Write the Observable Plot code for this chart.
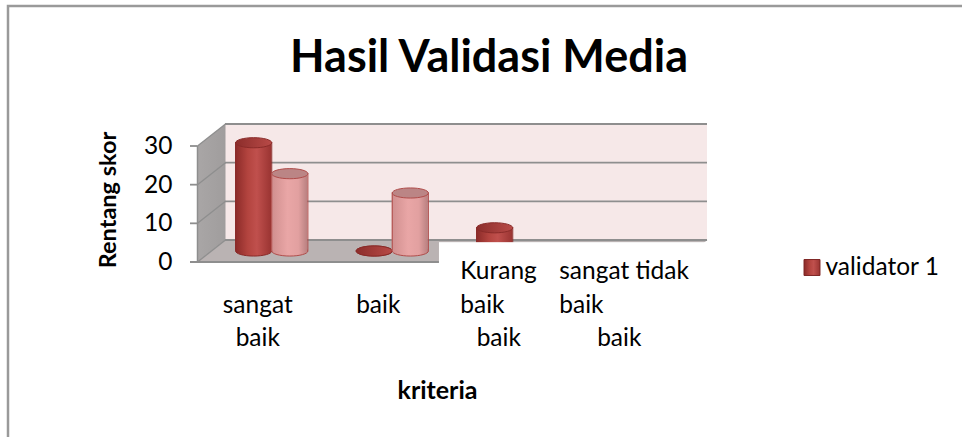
<!DOCTYPE html>
<html><head><meta charset="utf-8">
<script src="https://cdn.jsdelivr.net/npm/d3@7"></script>
<script src="https://cdn.jsdelivr.net/npm/@observablehq/plot@0.6"></script>
<style>html,body{margin:0;padding:0;background:#fff;} svg{display:block}</style>
</head><body><div id="chart"></div>
<script>
// ---- data ----
const title = "Hasil Validasi Media";
const yLabel = "Rentang skor";
const xLabel = "kriteria";
const categories = ["sangat baik", "baik", "Kurang baik", "sangat tidak baik"];
const seriesNames = ["validator 1", "validator 2"];
const validator1 = [28, 0, 6, 0];
const validator2 = [20, 15, 0, 0];
const legendLabels = ["validator 1"];
const yTicks = [0, 10, 20, 30];
// category labels as they wrap in the reference (row 0..2)
const labelsCentered = [
  {cat: 0, row: 1, text: "sangat"}, {cat: 0, row: 2, text: "baik"},
  {cat: 1, row: 1, text: "baik"},
  {cat: 2, row: 2, text: "baik"},
  {cat: 3, row: 2, text: "baik"}
];
const labelsLeft = [
  {cat: 2, row: 0, text: "Kurang"}, {cat: 2, row: 1, text: "baik"},
  {cat: 3, row: 0, text: "sangat tidak"}, {cat: 3, row: 1, text: "baik"}
];

// ---- layout ----
const X0 = -0.5, X1 = 3.5;
const PXX = 120.5, PXY = 116 / 30;
const DEPTH_DX = 28, DEPTH_DY = -22;          // px, front -> back wall
const DXu = DEPTH_DX / PXX, DYu = -DEPTH_DY / PXY;
const HALF = 0.15;                              // half bar width (x units)
const TICK = 7 / PXX;
const rowY = [271, 304.3, 337.6];
const leftShift = {2: -38.5 / PXX, 3: -60 / PXX};
const FONT = 24.5;
const gridColor = "#8e8e8e";
const T = {lineAnchor: "middle"};

const values = [validator1, validator2];
const bars = categories.flatMap((c, i) => seriesNames.map((s, k) => ({
  cat: i, category: c, series: s, value: values[k][i], xc: i + (k === 0 ? -HALF : HALF)
})));

const ellipse = {
  draw(ctx, size) {
    const rx = Math.sqrt(size / Math.PI), ry = rx * 0.28, k = 0.5523;
    ctx.moveTo(-rx, 0);
    ctx.bezierCurveTo(-rx, -ry * k, -rx * k, -ry, 0, -ry);
    ctx.bezierCurveTo(rx * k, -ry, rx, -ry * k, rx, 0);
    ctx.bezierCurveTo(rx, ry * k, rx * k, ry, 0, ry);
    ctx.bezierCurveTo(-rx * k, ry, -rx, ry * k, -rx, 0);
    ctx.closePath();
  }
};

const seriesStyle = {
  "validator 1": {body: "url(#g1)", top: "url(#g1t)", stroke: "#8a2b29"},
  "validator 2": {body: "url(#g2)", top: "#bb8585", stroke: "#b04d4b"}
};

const cylMarks = seriesNames.flatMap(s => {
  const d = bars.filter(b => b.series === s);
  const st = seriesStyle[s];
  const off = {dx: DEPTH_DX / 2, dy: DEPTH_DY / 2};
  return [
    Plot.dot(d, {x: "xc", y: 0, r: HALF * PXX, symbol: ellipse, fill: st.body, stroke: st.stroke, strokeWidth: 1, ...off}),
    Plot.rect(d, {x1: b => b.xc - HALF, x2: b => b.xc + HALF, y1: 0, y2: "value", fill: st.body, ...off}),
    Plot.ruleX(d, {x: b => b.xc - HALF, y1: 0, y2: "value", stroke: st.stroke, strokeWidth: 1, ...off}),
    Plot.ruleX(d, {x: b => b.xc + HALF, y1: 0, y2: "value", stroke: st.stroke, strokeWidth: 1, ...off}),
    Plot.dot(d, {x: "xc", y: "value", r: HALF * PXX, symbol: ellipse, fill: st.top, stroke: st.stroke, strokeWidth: 1, ...off})
  ];
});

const sideWall = [{x: X0, y: 0}, {x: X0, y: 30}, {x: X0 + DXu, y: 30 + DYu}, {x: X0 + DXu, y: DYu}];
const floor = [{x: X0, y: 0}, {x: X0 + DXu, y: DYu}, {x: X1 + DXu, y: DYu}, {x: X1, y: 0}];

const svg = Plot.plot({
  width: 962, height: 437, margin: 0,
  x: {domain: [X0, X1], range: [197, 197 + 4 * PXX], axis: null},
  y: {domain: [0, 30], range: [261.5, 145.5], axis: null},
  style: {fontFamily: "Lato, 'Open Sans', sans-serif", color: "#000", background: "#fff", overflow: "visible"},
  marks: [
    Plot.frame({insetLeft: 7.5, insetTop: 5.5, insetRight: -20, insetBottom: -20, stroke: "#9a9a9a", strokeWidth: 2.5}),
    // back wall
    Plot.rect([0], {x1: X0, x2: X1, y1: 0, y2: 30, dx: DEPTH_DX, dy: DEPTH_DY, fill: "#f6e8e8"}),
    // side wall + floor
    Plot.line(sideWall, {x: "x", y: "y", fill: "url(#gw)", stroke: "none"}),
    Plot.line(floor, {x: "x", y: "y", fill: "#bab3b3", stroke: "none"}),
    // back-wall gridlines
    Plot.ruleY(yTicks, {y: d => d, x1: X0, x2: X1, dx: DEPTH_DX, dy: DEPTH_DY, stroke: gridColor, strokeWidth: 1.8}),
    // side-wall gridlines
    Plot.link(yTicks, {x1: X0, y1: d => d, x2: X0 + DXu, y2: d => d + DYu, stroke: gridColor, strokeWidth: 1.3}),
    // front axis
    Plot.ruleX([X0], {y1: 0, y2: 30, stroke: gridColor, strokeWidth: 1.5}),
    Plot.ruleY(yTicks, {y: d => d, x1: X0 - TICK, x2: X0, stroke: gridColor, strokeWidth: 1.8}),
    Plot.ruleY([0], {x1: X0 - TICK, x2: X1, stroke: gridColor, strokeWidth: 2}),
    ...cylMarks,
    // label box of the wrapped category labels (white background)
    Plot.rect([0], {x1: 1.508, x2: 4.2, y1: -14, y2: 5.0, fill: "#fff"}),
    // y tick labels
    Plot.text(yTicks, {x: X0, y: d => d, text: d => String(d), textAnchor: "end", dx: -25, fontSize: FONT, ...T}),
    // category labels
    ...rowY.map((ry, r) => Plot.text(labelsCentered.filter(d => d.row === r), {x: "cat", text: "text", textAnchor: "middle", frameAnchor: "top", dy: ry, fontSize: FONT, ...T})),
    ...rowY.map((ry, r) => Plot.text(labelsLeft.filter(d => d.row === r), {x: d => d.cat + leftShift[d.cat], text: "text", textAnchor: "start", frameAnchor: "top", dy: ry, fontSize: FONT, ...T})),
    // title and axis titles
    Plot.text([title], {text: d => d, frameAnchor: "top-left", textAnchor: "middle", dx: 488.5, dy: 57.5, fontSize: 45, fontWeight: "bold", ...T}),
    Plot.text([yLabel], {text: d => d, frameAnchor: "top-left", textAnchor: "middle", dx: 108, dy: 199.5, rotate: -90, fontSize: 23.5, fontWeight: "bold", ...T}),
    Plot.text([xLabel], {text: d => d, frameAnchor: "top-left", textAnchor: "middle", dx: 437, dy: 390.5, fontSize: 25, fontWeight: "bold", ...T}),
    // legend
    Plot.dot(legendLabels, {frameAnchor: "top-left", dx: 811.5, dy: 267, symbol: "square", r: 9, fill: "url(#g1)", stroke: "#7e2624", strokeWidth: 1}),
    Plot.text(legendLabels, {text: d => d, frameAnchor: "top-left", dx: 825, dy: 267, textAnchor: "start", fontSize: FONT, ...T})
  ]
});

const defs = d3.select(svg).insert("defs", ":first-child");
function grad(id, stops) {
  const g = defs.append("linearGradient").attr("id", id).attr("x1", "0").attr("x2", "1").attr("y1", "0").attr("y2", "0");
  stops.forEach(([o, c]) => g.append("stop").attr("offset", o).attr("stop-color", c));
}
grad("g1", [["0", "#8a2a28"], ["0.35", "#b3443f"], ["0.6", "#c0504d"], ["1", "#9a3432"]]);
grad("g1t", [["0", "#8c2d2b"], ["1", "#b84a47"]]);
grad("g2", [["0", "#cf8e8e"], ["0.45", "#e9a6a6"], ["0.75", "#e2a0a0"], ["1", "#b88080"]]);
grad("gw", [["0", "#a9a6a6"], ["1", "#a09d9d"]]);

document.getElementById("chart").append(svg);
</script>
</body></html>
